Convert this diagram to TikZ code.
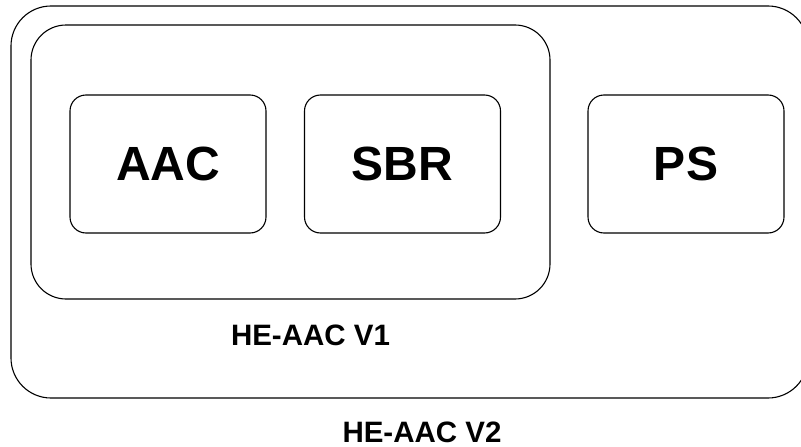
\documentclass[tikz,border=0pt]{standalone}
\usepackage{fontspec}
\setmainfont{Liberation Sans}
\begin{document}
\begin{tikzpicture}[x=1pt,y=-1pt,
  box/.style={draw=black,line width=1.1pt,rounded corners=#1,inner sep=0pt,fill=none},
  blk/.style={box=16pt,minimum width=196pt,minimum height=138pt,font=\fontsize{48}{56}\selectfont\bfseries},
  lbl/.style={font=\fontsize{29.5}{34}\selectfont\bfseries,inner sep=0pt}]
\useasboundingbox (0,0) rectangle (801,447);
\fill[white] (0,0) rectangle (801,447);
\node[box=40pt,minimum width=797pt,minimum height=392pt] (v2) at (409.5,202) {};
\node[box=35pt,minimum width=519pt,minimum height=274pt] (v1) at (290.5,162) {};
\node[blk] (aac) at (168,164) {AAC};
\node[blk] (sbr) at (402.5,164) {SBR};
\node[blk] (ps) at (686,164) {PS};
\node[lbl] (l1) at (310.5,335) {HE-AAC V1};
\node[lbl] (l2) at (422,432) {HE-AAC V2};
\end{tikzpicture}
\end{document}
